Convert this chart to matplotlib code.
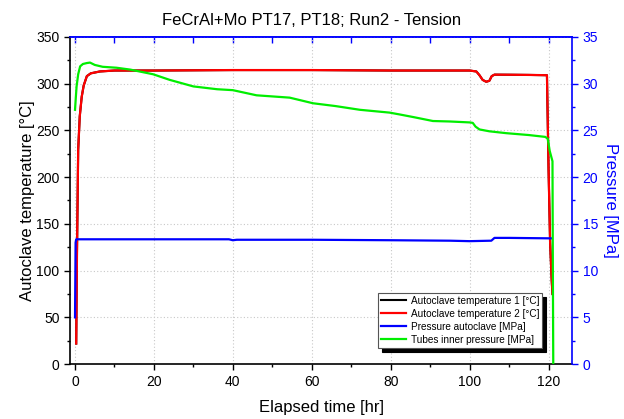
import matplotlib
matplotlib.use("Agg")
import matplotlib.pyplot as plt
from matplotlib.ticker import MultipleLocator

plt.rcParams['font.family'] = ['Liberation Sans', 'DejaVu Sans']

# Autoclave temperature (°C)
temp_t = [0.3, 0.5, 0.8, 1.2, 1.7, 2.2, 3.0, 4.0, 6.3, 10, 20, 40, 60, 80, 100,
          101.7, 102.5, 103.3, 104.2, 105.0, 105.6, 106.3, 110, 115, 119.6,
          120.0, 120.4, 120.8, 121.0]
temp_v = [22, 120, 229, 265, 286, 298, 308, 311, 313, 314, 314, 314.5, 314.5, 314, 314,
          313, 309, 304, 302, 303, 308, 309.6, 309.5, 309.3, 309,
          210, 130, 90, 75]

# Tubes inner pressure (MPa)
tube_t = [0, 0.2, 0.4, 0.8, 1.3, 2.0, 3.0, 3.8, 5, 7, 10.5, 14, 19.8, 24, 30, 36, 40,
          46, 54.4, 60.3, 66, 72.2, 79.7, 82.3, 86, 90.7, 95, 100, 100.8, 101.5,
          102.5, 105, 109.3, 115, 119.2, 119.8, 120.3, 121.0, 121.1, 121.2]
tube_v = [27.2, 28.5, 29.7, 31.0, 31.85, 32.1, 32.2, 32.25, 32.0, 31.8, 31.7, 31.5, 31.0,
          30.4, 29.7, 29.4, 29.3, 28.75, 28.5, 27.9, 27.6, 27.2, 26.9, 26.7, 26.4, 26.0,
          25.95, 25.85, 25.8, 25.4, 25.1, 24.9, 24.7, 24.5, 24.3, 24.1, 22.8, 21.7, 10, 0]

# Pressure autoclave (MPa)
press_t = [0, 0.15, 0.3, 5, 20, 39, 40, 41, 60, 80, 95, 100, 105.5, 106.3, 110, 120.7]
press_v = [5.0, 13.0, 13.35, 13.35, 13.35, 13.35, 13.25, 13.3, 13.3, 13.25, 13.2,
           13.15, 13.2, 13.5, 13.5, 13.45]

fig = plt.figure(figsize=(6.24, 4.19), dpi=100)
ax = fig.add_axes([0.112, 0.131, 0.805, 0.781])
ax2 = ax.twinx()

l1, = ax.plot(temp_t, temp_v, color='black', lw=1.5, label='Autoclave temperature 1 [°C]')
l2, = ax.plot(temp_t, temp_v, color='#ff0000', lw=1.6, label='Autoclave temperature 2 [°C]')
l3, = ax2.plot(press_t, press_v, color='#0000ff', lw=1.6, label='Pressure autoclave [MPa]')
l4, = ax2.plot(tube_t, tube_v, color='#00ee00', lw=1.6, label='Tubes inner pressure [MPa]')

ax.set_xlim(-1.3, 126)
ax.set_ylim(0, 350)
ax2.set_ylim(0, 35)

ax.xaxis.set_major_locator(MultipleLocator(20))
ax.xaxis.set_minor_locator(MultipleLocator(10))
ax.yaxis.set_major_locator(MultipleLocator(50))
ax.yaxis.set_minor_locator(MultipleLocator(25))
ax2.yaxis.set_major_locator(MultipleLocator(5))
ax2.yaxis.set_minor_locator(MultipleLocator(2.5))

ax.grid(True, which='major', color='#c8c8c8', linestyle=(0, (1, 2)), lw=0.8)

ax.tick_params(axis='both', which='major', direction='out', length=4, width=1,
               labelsize=10, colors='black')
ax.tick_params(axis='both', which='minor', direction='out', length=2.5, width=1)
ax2.tick_params(axis='y', which='major', direction='out', length=4, width=1,
                labelsize=10, colors='#0000ff')
ax2.tick_params(axis='y', which='minor', direction='out', length=2.5, width=1,
                colors='#0000ff')

for s in ['left', 'bottom']:
    ax.spines[s].set_linewidth(1.2)
ax2.spines['right'].set_color('#0000ff')
ax2.spines['right'].set_linewidth(1.2)
ax2.spines['top'].set_color('#0000ff')
ax2.spines['top'].set_linewidth(1.2)
ax2.spines['left'].set_visible(False)
ax2.spines['bottom'].set_visible(False)
ax.spines['top'].set_visible(False)
ax.spines['right'].set_visible(False)

top = ax.secondary_xaxis('top')
top.xaxis.set_major_locator(MultipleLocator(10))
top.tick_params(axis='x', which='major', direction='in', length=4, width=1,
                colors='#0000ff', labeltop=False)
top.spines['top'].set_color('#0000ff')
top.spines['top'].set_linewidth(1.2)

ax.set_xlabel('Elapsed time [hr]', fontsize=12, labelpad=8)
ax.set_ylabel('Autoclave temperature [°C]', fontsize=12, labelpad=1)
ax2.set_ylabel('Pressure [MPa]', fontsize=12, color='#0000ff', rotation=270, labelpad=14)
fig.suptitle('FeCrAl+Mo PT17, PT18; Run2 - Tension', fontsize=12, y=0.97)

leg = ax2.legend(handles=[l1, l2, l3, l4], loc='lower right',
                 bbox_to_anchor=(0.94, 0.05), borderaxespad=0, fontsize=7.2,
                 frameon=True, fancybox=False, edgecolor='#555555', framealpha=1,
                 shadow={'color': 'black', 'alpha': 1, 'ox': 3, 'oy': -3},
                 handlelength=2.5, labelspacing=0.3, borderpad=0.3, handletextpad=0.5)
leg.get_frame().set_linewidth(0.8)

fig.savefig('out.png', dpi=100)
